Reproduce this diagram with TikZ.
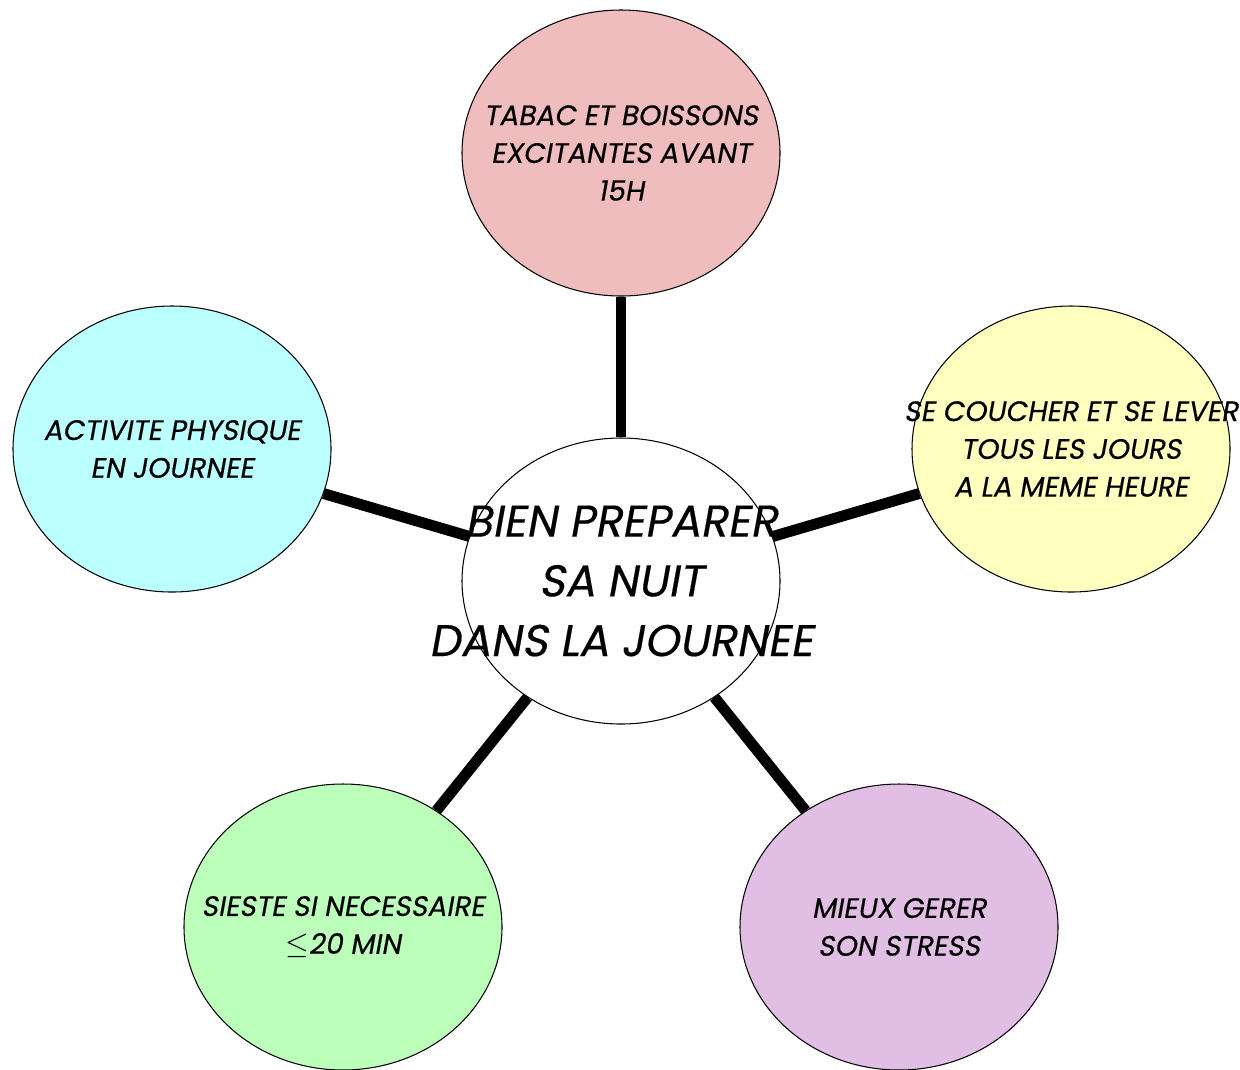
\documentclass[tikz,border=0pt]{standalone}
\usepackage{fontspec}
\newfontfamily\bubblefont{Poppins}[FakeSlant=0.18,FakeBold=0.4]
\usetikzlibrary{shapes.geometric}

\definecolor{bulleRose}{HTML}{EFBDBD}
\definecolor{bulleCyan}{HTML}{BBFFFF}
\definecolor{bulleJaune}{HTML}{FFFFBF}
\definecolor{bulleVert}{HTML}{BBFFBB}
\definecolor{bulleMauve}{HTML}{E1BEE4}

\begin{document}
\begin{tikzpicture}[
  bulle/.style={draw, ellipse, line width=0.6pt, inner sep=0pt, minimum width=6.36cm, minimum height=5.72cm},
  texte/.style={align=center, inner sep=0pt, font=\bubblefont\fontsize{16}{21.5}\selectfont},
  grand/.style={align=center, inner sep=0pt, font=\bubblefont\fontsize{25.3}{34}\selectfont},
  lien/.style={line width=6.2pt}]
\useasboundingbox (0,0) rectangle (24.8,-21.38);

\node[bulle, fill=white, label={[grand]center:BIEN PREPARER\\SA NUIT\\DANS LA JOURNEE}] (mid) at (12.42,-11.62) {};

\node[bulle, fill=bulleRose, label={[texte]center:TABAC ET BOISSONS\\EXCITANTES AVANT\\15H}] (tabac) at (12.42,-3.06) {};
\node[bulle, fill=bulleCyan, label={[texte]center:ACTIVITE PHYSIQUE\\EN JOURNEE}] (sport) at (3.44,-8.98) {};
\node[bulle, fill=bulleJaune, label={[texte]center:SE COUCHER ET SE LEVER\\TOUS LES JOURS\\A LA MEME HEURE}] (heure) at (21.42,-8.98) {};
\node[bulle, fill=bulleVert, label={[texte]center:SIESTE SI NECESSAIRE\\$\leq$20 MIN}] (sieste) at (6.86,-18.54) {};
\node[bulle, fill=bulleMauve, label={[texte]center:MIEUX GERER\\SON STRESS}] (stress) at (17.98,-18.54) {};

\draw[lien] (mid) -- (tabac);
\draw[lien] (mid) -- (sport);
\draw[lien] (mid) -- (heure);
\draw[lien] (mid) -- (sieste);
\draw[lien] (mid) -- (stress);
\end{tikzpicture}
\end{document}
